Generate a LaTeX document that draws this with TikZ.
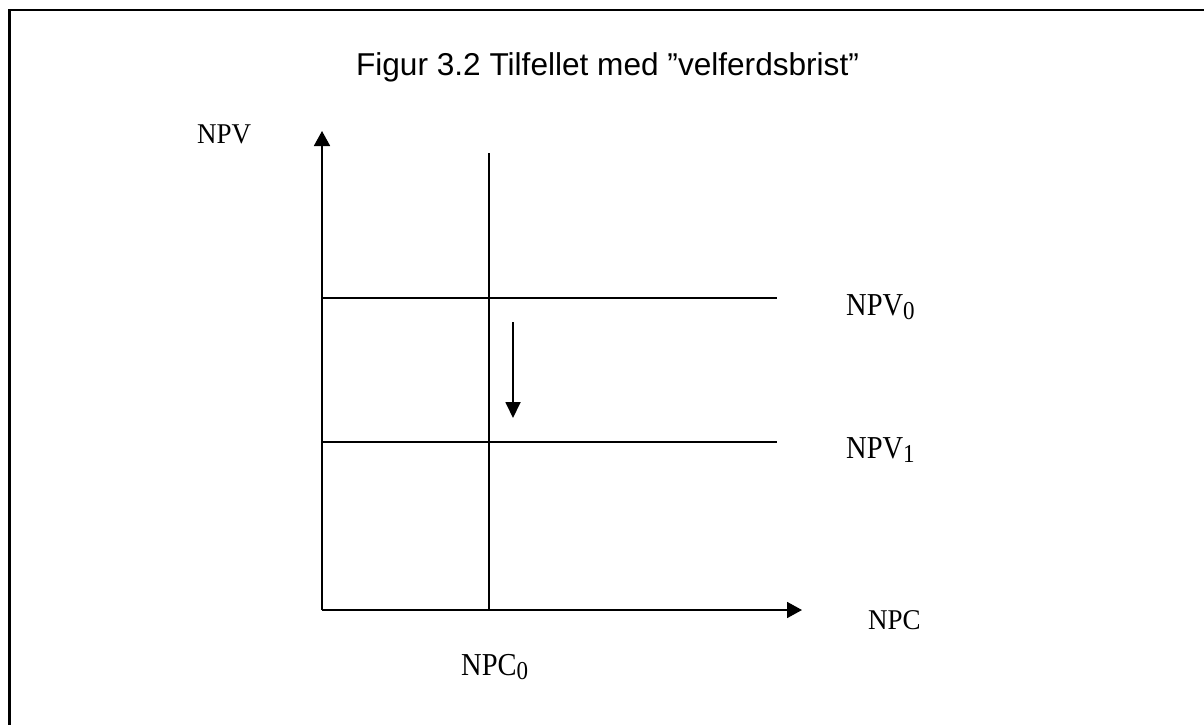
\documentclass[tikz,border=0pt]{standalone}
\usepackage{fontspec}
\setmainfont{Liberation Serif}
\newfontfamily\titlefont{Liberation Sans}
\usetikzlibrary{arrows.meta}
\newcommand\lowidx[1]{\raisebox{-4pt}{\fontsize{23}{23}\selectfont #1}}
\newcommand\tallish[2]{\scalebox{1}[#1]{#2}}
\begin{document}
\begin{tikzpicture}[x=1pt,y=-1pt,
  thinline/.style={line width=1.8pt},
  uptip/.style={thinline,-{Triangle[width=16pt,length=15pt]}},
  downtip/.style={thinline,-{Triangle[width=15pt,length=16pt]}},
  curvelbl/.style={anchor=base west, inner sep=0pt, font=\fontsize{28.5}{28.5}\selectfont},
  axlbl/.style={anchor=base west, inner sep=0pt, font=\fontsize{27}{27}\selectfont}]
  \clip (0,0) rectangle (1204,725);
  \fill[white] (0,0) rectangle (1204,725);

  % outer frame (runs past the right and bottom edges)
  \draw[line width=2.4pt] (9.5,800) -- (9.5,10) -- (1260,10);

  % title
  \node (title) at (607.5,75) [anchor=base, inner sep=0pt,
    font=\titlefont\fontsize{31.6}{31.6}\selectfont] {Figur 3.2 Tilfellet med ”velferdsbrist”};

  % axes
  \coordinate (O) at (322,610);
  \coordinate (ytop) at (322,131);
  \coordinate (xend) at (802,610);
  \draw[uptip] (O) -- (ytop);
  \draw[uptip] (O) -- (xend);

  % NPC_0 vertical
  \coordinate (c0top) at (489,153);
  \coordinate (c0bot) at (489,610);
  \draw[thinline] (c0bot) -- (c0top);

  % NPV levels
  \coordinate (v0a) at (322,298);
  \coordinate (v0b) at (777,298);
  \coordinate (v1a) at (322,442);
  \coordinate (v1b) at (777,442);
  \draw[thinline] (v0a) -- (v0b);
  \draw[thinline] (v1a) -- (v1b);

  % shift from NPV_0 to NPV_1
  \coordinate (shA) at (513,322);
  \coordinate (shB) at (513,418);
  \draw[downtip] (shA) -- (shB);

  % labels
  \node[axlbl] (lnpv) at (197,143) {\tallish{1.06}{NPV}};
  \node[axlbl] (lnpc) at (868,629) {\tallish{1.06}{NPC}};
  \node[curvelbl] (lnpv0) at (846,315) {\tallish{1.12}{NPV\lowidx{0}}};
  \node[curvelbl] (lnpv1) at (846,458) {\tallish{1.12}{NPV\lowidx{1}}};
  \node[curvelbl] (lnpc0) at (461,675) {\tallish{1.12}{NPC\lowidx{0}}};
\end{tikzpicture}
\end{document}
